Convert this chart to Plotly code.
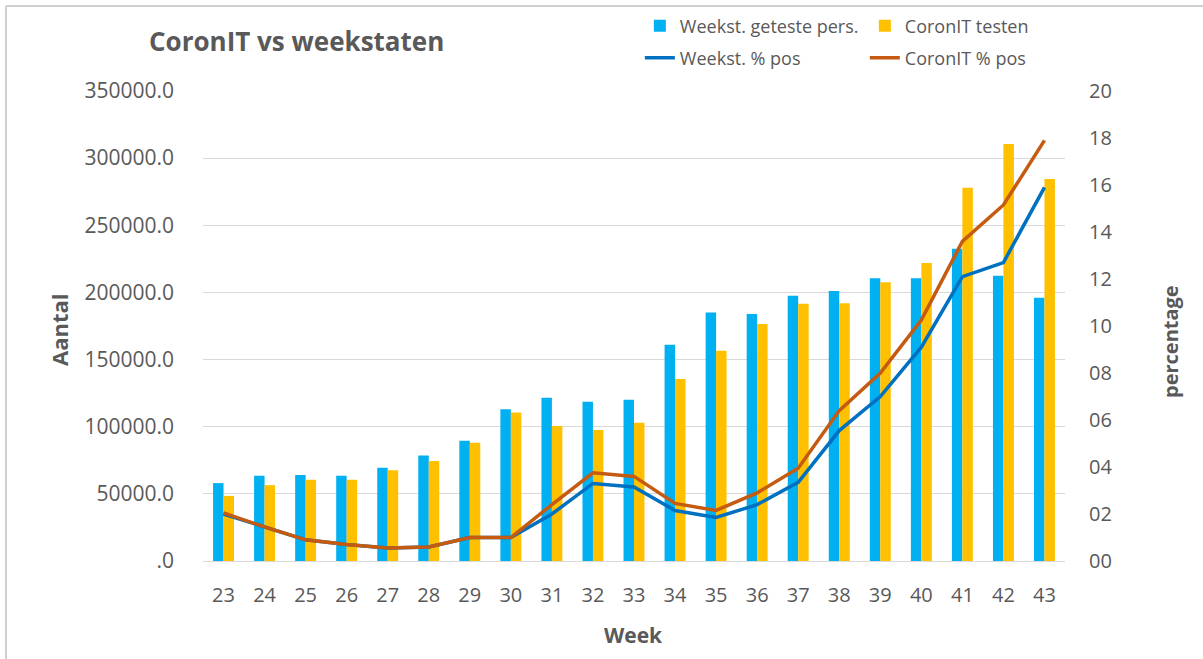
import plotly.graph_objects as go

weeks = ["23", "24", "25", "26", "27", "28", "29", "30", "31", "32", "33",
         "34", "35", "36", "37", "38", "39", "40", "41", "42", "43"]
weekst_geteste = [58000, 63500, 64000, 63500, 69500, 78500, 89500, 113000, 121500, 118500, 120000,
                  161000, 185000, 184000, 197500, 201000, 210500, 210500, 232500, 212500, 196000]
coronit_testen = [48500, 56500, 60500, 60500, 67500, 74500, 88000, 110500, 100500, 97500, 103000,
                  135500, 156500, 176500, 191500, 192000, 207500, 222000, 278000, 310500, 284500]
weekst_pct = [2.0, 1.45, 0.9, 0.7, 0.55, 0.6, 1.0, 1.0, 2.0, 3.3, 3.15,
              2.15, 1.85, 2.4, 3.35, 5.55, 7.0, 9.1, 12.1, 12.7, 15.9]
coronit_pct = [2.05, 1.45, 0.9, 0.7, 0.55, 0.6, 1.0, 1.0, 2.4, 3.75, 3.6,
               2.45, 2.15, 2.9, 3.95, 6.4, 8.0, 10.25, 13.6, 15.15, 17.9]

left_tickvals = [0, 50000, 100000, 150000, 200000, 250000, 300000, 350000]
left_ticktext = [".0", "50000.0", "100000.0", "150000.0", "200000.0", "250000.0", "300000.0", "350000.0"]
right_tickvals = [0, 2, 4, 6, 8, 10, 12, 14, 16, 18, 20]
right_ticktext = ["00", "02", "04", "06", "08", "10", "12", "14", "16", "18", "20"]

FONT = "Open Sans"
GREY = "#595959"

fig = go.Figure()
fig.add_trace(go.Bar(x=weeks, y=weekst_geteste, name="Weekst. geteste pers.",
                     marker=dict(color="#00B0F0", line=dict(width=0)), legend="legend"))
fig.add_trace(go.Bar(x=weeks, y=coronit_testen, name="CoronIT testen",
                     marker=dict(color="#FFC000", line=dict(width=0)), legend="legend"))
fig.add_trace(go.Scatter(x=weeks, y=weekst_pct, name="Weekst. % pos", yaxis="y2", mode="lines",
                         line=dict(color="#0070C0", width=3.5), legend="legend2"))
fig.add_trace(go.Scatter(x=weeks, y=coronit_pct, name="CoronIT % pos", yaxis="y2", mode="lines",
                         line=dict(color="#C55A11", width=3.5), legend="legend2"))

fig.update_layout(
    width=1203, height=659,
    margin=dict(l=203, r=138, t=91, b=98, autoexpand=False),
    paper_bgcolor="white", plot_bgcolor="white",
    font=dict(family=FONT, color=GREY, size=20),
    barmode="group", bargap=0.49, bargroupgap=0,
    title=dict(text="<b>CoronIT vs weekstaten</b>", x=149 / 1203, xanchor="left",
               y=1 - 42 / 659, yanchor="middle", font=dict(size=26, color=GREY, family=FONT)),
    xaxis=dict(type="category", showgrid=False, showline=True, linecolor="#d9d9d9", linewidth=1,
               ticks="", ticklabelstandoff=16, tickfont=dict(size=20, color=GREY)),
    yaxis=dict(range=[0, 350000], tickvals=left_tickvals, ticktext=left_ticktext,
               showgrid=True, gridcolor="#d9d9d9", gridwidth=1, zeroline=False,
               ticks="", ticklabelstandoff=28, tickfont=dict(size=21, color=GREY)),
    yaxis2=dict(range=[0, 20], tickvals=right_tickvals, ticktext=right_ticktext,
                overlaying="y", side="right", showgrid=False, zeroline=False,
                ticks="", ticklabelstandoff=23, tickfont=dict(size=20, color=GREY)),
    legend=dict(orientation="h", x=0.4975 + 8 / 862, xanchor="left", y=1 + (91 - 26) / 470, yanchor="middle",
                entrywidth=180, entrywidthmode="pixels", traceorder="normal",
                font=dict(size=18, color=GREY, family=FONT), bgcolor="rgba(0,0,0,0)"),
    legend2=dict(orientation="h", x=0.4975 + 8 / 862, xanchor="left", y=1 + (91 - 58) / 470, yanchor="middle",
                 entrywidth=180, entrywidthmode="pixels", traceorder="normal",
                 font=dict(size=18, color=GREY, family=FONT), bgcolor="rgba(0,0,0,0)"),
    annotations=[
        dict(text="<b>Aantal</b>", xref="paper", yref="paper", x=(59 - 203) / 862, y=(561 - 330) / 470,
             xanchor="center", yanchor="middle",
             textangle=-90, showarrow=False, font=dict(size=22, color=GREY, family=FONT)),
        dict(text="<b>percentage</b>", xref="paper", yref="paper", x=(1170 - 203) / 862, y=(561 - 342) / 470,
             xanchor="center", yanchor="middle",
             textangle=-90, showarrow=False, font=dict(size=20, color=GREY, family=FONT)),
        dict(text="<b>Week</b>", xref="paper", yref="paper", x=(633 - 203) / 862, y=-(635 - 561) / 470,
             xanchor="center", yanchor="middle",
             showarrow=False, font=dict(size=21, color=GREY, family=FONT)),
    ],
    shapes=[
        dict(type="line", xref="paper", yref="paper", x0=(6 - 203) / 862, x1=(6 - 203) / 862,
             y0=(561 - 6) / 470, y1=(561 - 700) / 470, line=dict(color="#d0d0d0", width=2)),
        dict(type="line", xref="paper", yref="paper", x0=(6 - 203) / 862, x1=(1250 - 203) / 862,
             y0=(561 - 6) / 470, y1=(561 - 6) / 470, line=dict(color="#d0d0d0", width=2)),
    ],
    showlegend=True,
)

fig.write_html("out.html", config={"displayModeBar": False},
               post_script="document.body.style.margin='0';")
